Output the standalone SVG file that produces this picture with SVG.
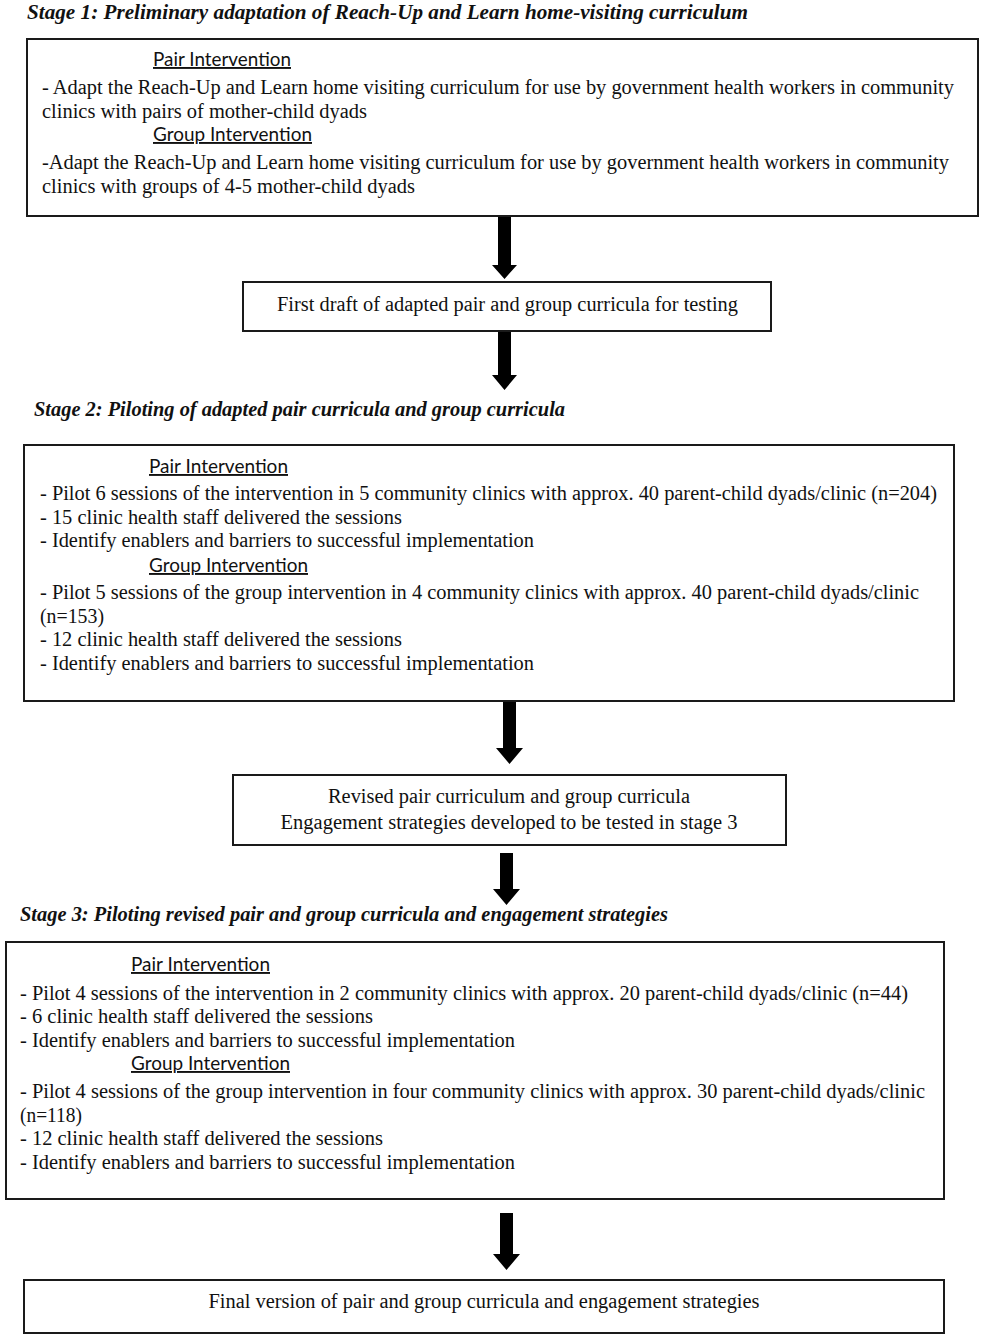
<svg xmlns="http://www.w3.org/2000/svg" width="983" height="1339" viewBox="0 0 983 1339">
<style>
  .box { fill: #ffffff; stroke: #1a1a1a; stroke-width: 2; }
  .t { font-family: "Liberation Serif", "Times New Roman", serif; font-size: 20.5px; fill: #111; }
  .h { font-family: "Liberation Serif", "Times New Roman", serif; font-size: 20.5px; font-weight: bold; font-style: italic; fill: #111; }
  .s { font-family: Lato, "Liberation Sans", sans-serif; font-size: 19px; fill: #111; text-decoration: underline; }
  .c { text-anchor: middle; }
  .arrow { fill: #000; }
</style>
<rect x="0" y="0" width="983" height="1339" fill="#ffffff"/>

<g id="heading1"><text class="h" x="27" y="19" textLength="721" lengthAdjust="spacingAndGlyphs">Stage 1: Preliminary adaptation of Reach-Up and Learn home-visiting curriculum</text></g>

<g id="node1">
  <rect class="box" x="27" y="39" width="951" height="177"/>
  <text class="s" x="153" y="66" textLength="138" lengthAdjust="spacingAndGlyphs">Pair Intervention</text>
  <text class="t" x="42" y="94" textLength="912" lengthAdjust="spacingAndGlyphs">- Adapt the Reach-Up and Learn home visiting curriculum for use by government health workers in community</text>
  <text class="t" x="42" y="118" textLength="325" lengthAdjust="spacingAndGlyphs">clinics with pairs of mother-child dyads</text>
  <text class="s" x="153" y="141" textLength="159" lengthAdjust="spacingAndGlyphs">Group Intervention</text>
  <text class="t" x="42" y="169" textLength="907" lengthAdjust="spacingAndGlyphs">-Adapt the Reach-Up and Learn home visiting curriculum for use by government health workers in community</text>
  <text class="t" x="42" y="193" textLength="373" lengthAdjust="spacingAndGlyphs">clinics with groups of 4-5 mother-child dyads</text>
</g>

<g id="node2">
  <rect class="box" x="243" y="282" width="528" height="49"/>
  <text class="t" x="277" y="311" textLength="461" lengthAdjust="spacingAndGlyphs">First draft of adapted pair and group curricula for testing</text>
</g>

<g id="heading2"><text class="h" x="34" y="416" textLength="531" lengthAdjust="spacingAndGlyphs">Stage 2: Piloting of adapted pair curricula and group curricula</text></g>

<g id="node3">
  <rect class="box" x="24" y="445" width="930" height="256"/>
  <text class="s" x="149" y="473" textLength="139" lengthAdjust="spacingAndGlyphs">Pair Intervention</text>
  <text class="t" x="40" y="500" textLength="897" lengthAdjust="spacingAndGlyphs">- Pilot 6 sessions of the intervention in 5 community clinics with approx. 40 parent-child dyads/clinic (n=204)</text>
  <text class="t" x="40" y="524" textLength="362" lengthAdjust="spacingAndGlyphs">- 15 clinic health staff delivered the sessions</text>
  <text class="t" x="40" y="547" textLength="494" lengthAdjust="spacingAndGlyphs">- Identify enablers and barriers to successful implementation</text>
  <text class="s" x="149" y="572" textLength="159" lengthAdjust="spacingAndGlyphs">Group Intervention</text>
  <text class="t" x="40" y="599" textLength="879" lengthAdjust="spacingAndGlyphs">- Pilot 5 sessions of the group intervention in 4 community clinics with approx. 40 parent-child dyads/clinic</text>
  <text class="t" x="40" y="623" textLength="64" lengthAdjust="spacingAndGlyphs">(n=153)</text>
  <text class="t" x="40" y="646" textLength="362" lengthAdjust="spacingAndGlyphs">- 12 clinic health staff delivered the sessions</text>
  <text class="t" x="40" y="670" textLength="494" lengthAdjust="spacingAndGlyphs">- Identify enablers and barriers to successful implementation</text>
</g>

<g id="node4">
  <rect class="box" x="233" y="775" width="553" height="70"/>
  <text class="t c" x="509" y="803" textLength="362" lengthAdjust="spacingAndGlyphs">Revised pair curriculum and group curricula</text>
  <text class="t c" x="509" y="829" textLength="457" lengthAdjust="spacingAndGlyphs">Engagement strategies developed to be tested in stage 3</text>
</g>

<g id="heading3"><text class="h" x="20" y="921" textLength="648" lengthAdjust="spacingAndGlyphs">Stage 3: Piloting revised pair and group curricula and engagement strategies</text></g>

<g id="node5">
  <rect class="box" x="6" y="942" width="938" height="257"/>
  <text class="s" x="131" y="971" textLength="139" lengthAdjust="spacingAndGlyphs">Pair Intervention</text>
  <text class="t" x="20" y="1000" textLength="888" lengthAdjust="spacingAndGlyphs">- Pilot 4 sessions of the intervention in 2 community clinics with approx. 20 parent-child dyads/clinic (n=44)</text>
  <text class="t" x="20" y="1023" textLength="353" lengthAdjust="spacingAndGlyphs">- 6 clinic health staff delivered the sessions</text>
  <text class="t" x="20" y="1047" textLength="495" lengthAdjust="spacingAndGlyphs">- Identify enablers and barriers to successful implementation</text>
  <text class="s" x="131" y="1070" textLength="159" lengthAdjust="spacingAndGlyphs">Group Intervention</text>
  <text class="t" x="20" y="1098" textLength="905" lengthAdjust="spacingAndGlyphs">- Pilot 4 sessions of the group intervention in four community clinics with approx. 30 parent-child dyads/clinic</text>
  <text class="t" x="20" y="1122" textLength="62" lengthAdjust="spacingAndGlyphs">(n=118)</text>
  <text class="t" x="20" y="1145" textLength="363" lengthAdjust="spacingAndGlyphs">- 12 clinic health staff delivered the sessions</text>
  <text class="t" x="20" y="1169" textLength="495" lengthAdjust="spacingAndGlyphs">- Identify enablers and barriers to successful implementation</text>
</g>

<g id="node6">
  <rect class="box" x="24" y="1280" width="920" height="53"/>
  <text class="t c" x="484" y="1308" textLength="551" lengthAdjust="spacingAndGlyphs">Final version of pair and group curricula and engagement strategies</text>
</g>

<g id="connectors">
  <polygon class="arrow" points="498,217 511,217 511,265 517,265 504.5,279 492,265 498,265"/>
  <polygon class="arrow" points="498,332 511,332 511,375 517,375 504.5,390 492,375 498,375"/>
  <polygon class="arrow" points="503,702 516,702 516,748 523,748 509.5,764 496,748 503,748"/>
  <polygon class="arrow" points="500,853 513,853 513,889 520,889 506.5,905 493,889 500,889"/>
  <polygon class="arrow" points="500,1213 513,1213 513,1254 520,1254 506.5,1270 493,1254 500,1254"/>
</g>
</svg>
